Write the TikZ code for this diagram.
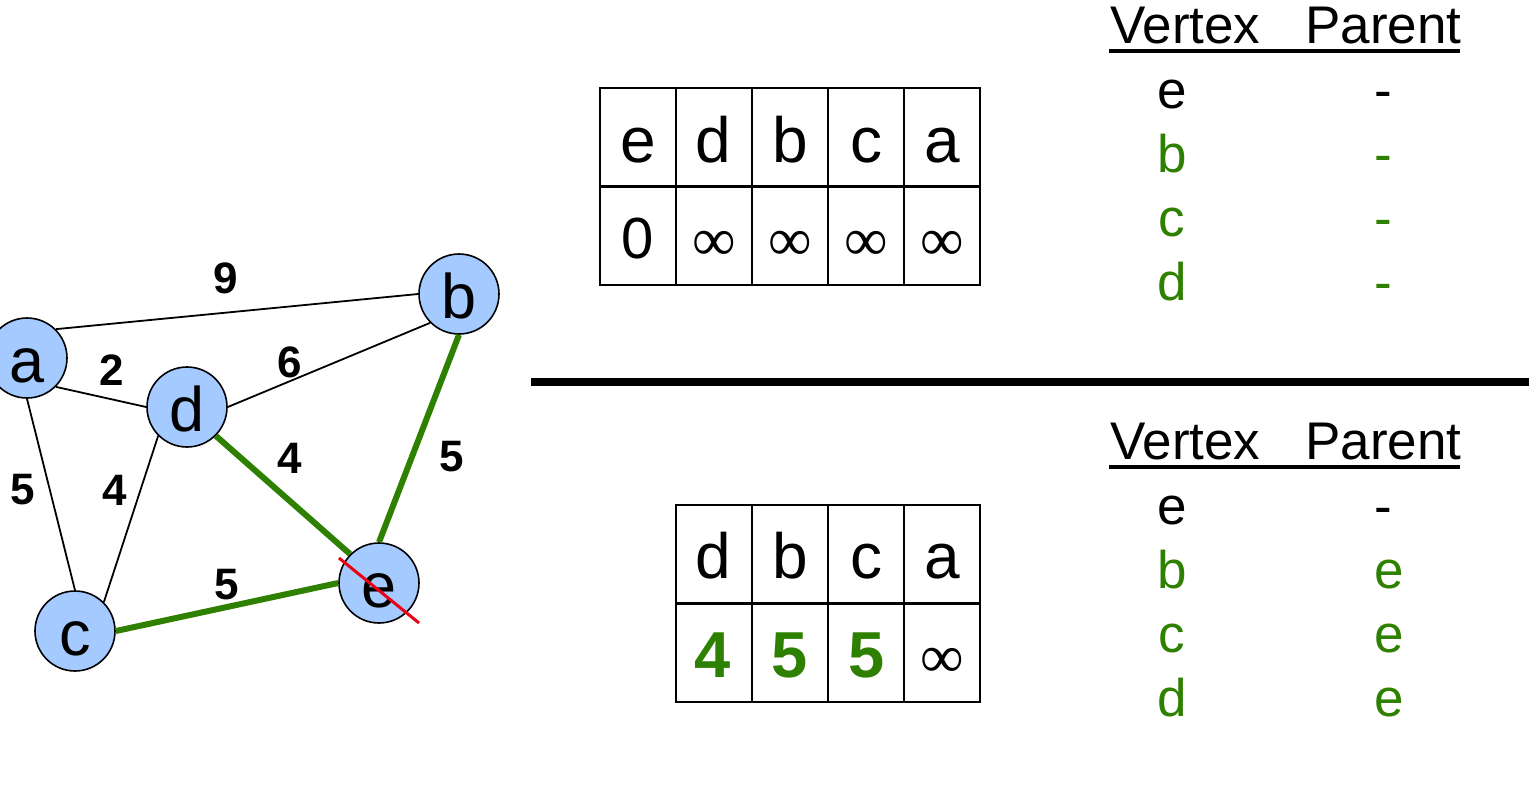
\documentclass[tikz,border=0pt]{standalone}
\usepackage{fontspec}
\setmainfont{Liberation Sans}
\newfontfamily\infont{Liberation Serif}
\definecolor{nodeblue}{RGB}{164,202,255}
\definecolor{treegreen}{RGB}{46,128,0}
\definecolor{cutred}{RGB}{235,0,20}
\begin{document}
\begin{tikzpicture}[x=1pt,y=-1pt,
  vert/.style={circle,draw=black,line width=1.6pt,fill=nodeblue,minimum size=80pt,inner sep=0pt,text height=48pt,text depth=0pt,font=\fontsize{63}{63}\selectfont},
  wt/.style={font=\fontsize{44}{44}\selectfont\bfseries,inner sep=0pt},
  thinedge/.style={draw=black,line width=1.8pt},
  treeedge/.style={draw=treegreen,line width=6pt},
  cell/.style={draw=black,line width=2pt,minimum width=76pt,minimum height=98pt,inner sep=0pt},
  celltxt/.style={anchor=base,inner sep=0pt,font=\fontsize{64}{64}\selectfont},
  zerotxt/.style={anchor=base,inner sep=0pt,font=\fontsize{58}{58}\selectfont},
  numtxt/.style={anchor=base,inner sep=0pt,font=\fontsize{65}{65}\selectfont\bfseries,text=treegreen},
  inftxt/.style={inner sep=0pt,font=\infont\fontsize{61}{61}\selectfont},
  hdrtxt/.style={anchor=base west,inner sep=0pt,font=\fontsize{53}{53}\selectfont},
  rowtxt/.style={anchor=base,inner sep=0pt,font=\fontsize{53}{53}\selectfont},
  grn/.style={text=treegreen},
]
\useasboundingbox (0,0) rectangle (1529,788);

% ---------- graph ----------
\node[vert] (a) at (27,358) {a};
\node[vert] (b) at (459,294) {b};
\node[vert] (d) at (187,407) {d};
\node[vert] (c) at (75,631) {c};
\node[vert] (e) at (379,583) {e};

\draw[thinedge] (a.45) -- (b.180);
\draw[thinedge] (a.-45) -- (d.180);
\draw[thinedge] (a.-90) -- (c.90);
\draw[thinedge] (d.0) -- (b.-135);
\draw[thinedge] (d.-135) -- (c.45);
\draw[treeedge] (d.-45) -- (e.135);
\draw[treeedge] (b.-90) -- (e.90);
\draw[treeedge] (c.0) -- (e.180);

\coordinate (cutA) at (339,558);
\coordinate (cutB) at (419,623);
\draw[cutred,line width=3pt] (cutA) -- (cutB);

\node[wt] (wab) at (226,278) {9};
\node[wt] (wad) at (112,370) {2};
\node[wt] (wdb) at (290,362) {6};
\node[wt] (wac) at (23,490) {5};
\node[wt] (wdc) at (115,490) {4};
\node[wt] (wde) at (290,458) {4};
\node[wt] (wbe) at (452,457) {5};
\node[wt] (wce) at (227,585) {5};

% ---------- top table ----------
\node[cell] (t1) at (638,137) {};
\node[cell] (t2) at (714,137) {};
\node[cell] (t3) at (790,137) {};
\node[cell] (t4) at (866,137) {};
\node[cell] (t5) at (942,137) {};
\node[cell] (u1) at (638,236) {};
\node[cell] (u2) at (714,236) {};
\node[cell] (u3) at (790,236) {};
\node[cell] (u4) at (866,236) {};
\node[cell] (u5) at (942,236) {};
\node[celltxt] (tl1) at (638,162) {e};
\node[celltxt] (tl2) at (713,162) {d};
\node[celltxt] (tl3) at (790,162) {b};
\node[celltxt] (tl4) at (866,162) {c};
\node[celltxt] (tl5) at (942,162) {a};
\node[zerotxt] (tv1) at (638,258) {0};
\node[inftxt] (tv2) at (714,246) {∞};
\node[inftxt] (tv3) at (790,246) {∞};
\node[inftxt] (tv4) at (866,246) {∞};
\node[inftxt] (tv5) at (942,246) {∞};

% ---------- divider ----------
\draw[line width=8pt] (531,382) -- (1529,382);

% ---------- bottom table ----------
\node[cell] (s2) at (714,554) {};
\node[cell] (s3) at (790,554) {};
\node[cell] (s4) at (866,554) {};
\node[cell] (s5) at (942,554) {};
\node[cell] (v2) at (714,653) {};
\node[cell] (v3) at (790,653) {};
\node[cell] (v4) at (866,653) {};
\node[cell] (v5) at (942,653) {};
\node[celltxt] (sl2) at (713,578) {d};
\node[celltxt] (sl3) at (790,578) {b};
\node[celltxt] (sl4) at (866,578) {c};
\node[celltxt] (sl5) at (942,578) {a};
\node[numtxt] (sv2) at (713,677) {4};
\node[numtxt] (sv3) at (790,677) {5};
\node[numtxt] (sv4) at (867,677) {5};
\node[inftxt] (sv5) at (942,663) {∞};

% ---------- top vertex/parent list ----------
\node[hdrtxt] (h1v) at (1110,43) {Vertex};
\node[hdrtxt] (h1p) at (1305,43) {Parent};
\draw[line width=3.5pt] (1109,51) -- (1460,51);
\node[rowtxt] (r1a) at (1172,108) {e};
\node[rowtxt] (r1b) at (1383,108) {-};
\node[rowtxt,grn] (r2a) at (1172,172) {b};
\node[rowtxt,grn] (r2b) at (1383,172) {-};
\node[rowtxt,grn] (r3a) at (1172,236) {c};
\node[rowtxt,grn] (r3b) at (1383,236) {-};
\node[rowtxt,grn] (r4a) at (1172,300) {d};
\node[rowtxt,grn] (r4b) at (1383,300) {-};

% ---------- bottom vertex/parent list ----------
\node[hdrtxt] (h2v) at (1110,459) {Vertex};
\node[hdrtxt] (h2p) at (1305,459) {Parent};
\draw[line width=3.5pt] (1109,467) -- (1460,467);
\node[rowtxt] (q1a) at (1172,524) {e};
\node[rowtxt] (q1b) at (1383,524) {-};
\node[rowtxt,grn] (q2a) at (1172,588) {b};
\node[rowtxt,grn] (q2b) at (1389,588) {e};
\node[rowtxt,grn] (q3a) at (1172,652) {c};
\node[rowtxt,grn] (q3b) at (1389,652) {e};
\node[rowtxt,grn] (q4a) at (1172,716) {d};
\node[rowtxt,grn] (q4b) at (1389,716) {e};
\end{tikzpicture}
\end{document}
